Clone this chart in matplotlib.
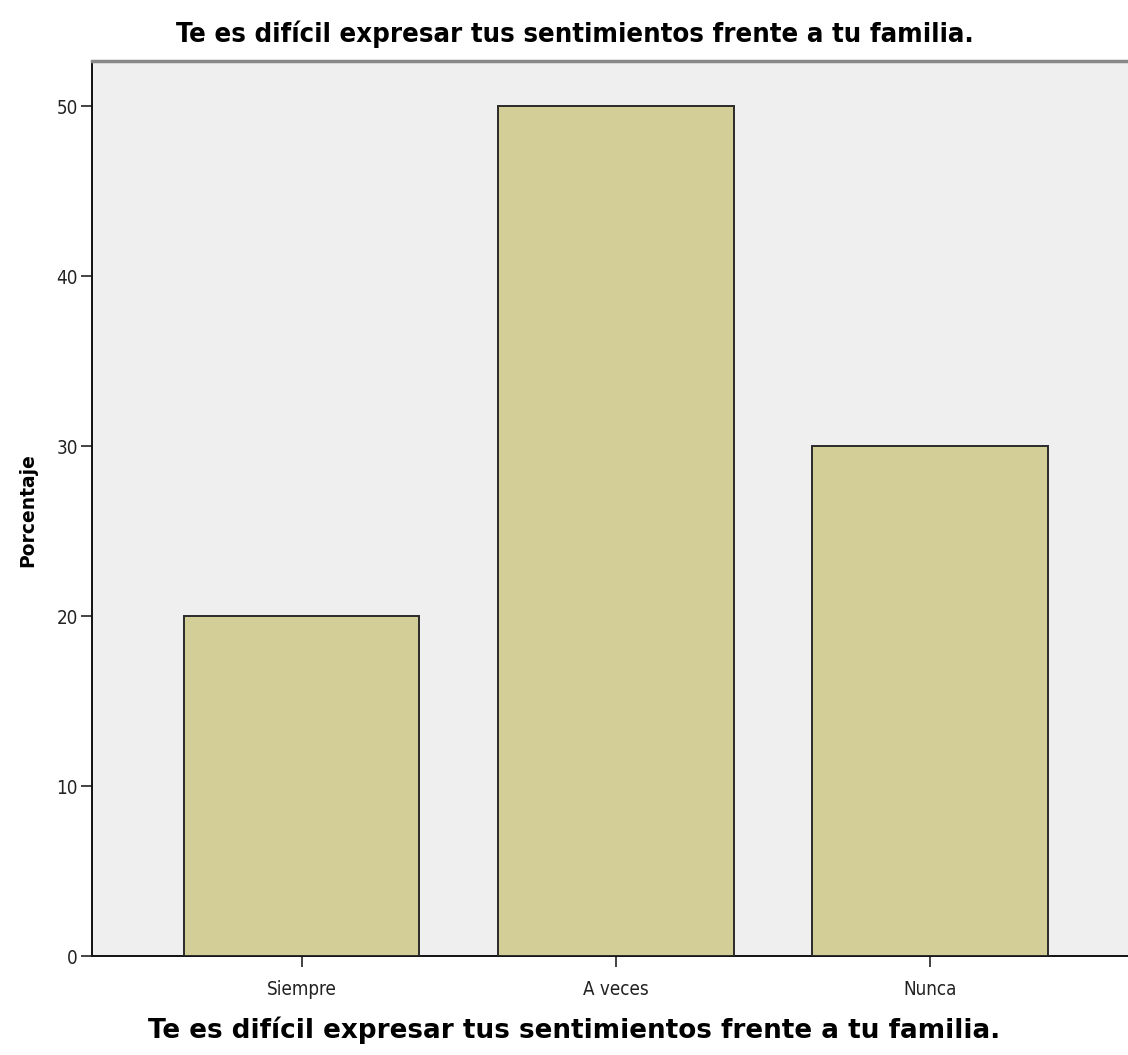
import matplotlib
matplotlib.use("Agg")
import matplotlib.pyplot as plt

categories = ["Siempre", "A veces", "Nunca"]
percentages = [20, 50, 30]
yticks = [0, 10, 20, 30, 40, 50]
title = "Te es difícil expresar tus sentimientos frente a tu familia."
xlabel = "Te es difícil expresar tus sentimientos frente a tu familia."
ylabel = "Porcentaje"

W, H = 1128, 1055
fig = plt.figure(figsize=(W / 100, H / 100), dpi=100)
left, right, bottom, top = 92, 1139.5, 956, 61
ax = fig.add_axes([left / W, 1 - bottom / H, (right - left) / W, (bottom - top) / H])
ax.set_facecolor("#efefef")

x = list(range(len(categories)))
ax.bar(x, percentages, width=0.75, color="#d3ce97", edgecolor="#2a2a2a", linewidth=1.4, zorder=3)

ax.set_xlim(-0.667, 2.667)
ax.set_ylim(0, 52.65)
ax.set_xticks(x)
ax.set_xticklabels(categories, family="DejaVu Sans", fontstretch="condensed", fontsize=13.5, color="#222222")
ax.set_yticks(yticks)
ax.set_yticklabels([str(v) for v in yticks], family="DejaVu Sans", fontstretch="condensed", fontsize=13.5, color="#222222")
ax.tick_params(axis="both", direction="out", length=8, width=1.2, color="#222222")
ax.tick_params(axis="x", pad=9)
ax.tick_params(axis="y", pad=2)

for s in ["left", "bottom"]:
    ax.spines[s].set_color("#111111")
    ax.spines[s].set_linewidth(1.4)
ax.spines["top"].set_color("#888888")
ax.spines["top"].set_linewidth(2.5)
ax.spines["right"].set_visible(False)

fig.text(575 / W, 1 - 34 / H, title, ha="center", va="center", family="DejaVu Sans",
         fontstretch="condensed", fontweight="bold", fontsize=19.7, color="#000000")
fig.text(574 / W, 1 - 1030 / H, xlabel, ha="center", va="center", family="DejaVu Sans",
         fontweight="bold", fontsize=18.9, color="#000000")
fig.text(28 / W, 1 - 510 / H, ylabel, ha="center", va="center", rotation=90,
         family="DejaVu Sans", fontweight="bold", fontsize=13.5, color="#000000")

fig.savefig("out.png", dpi=100)
